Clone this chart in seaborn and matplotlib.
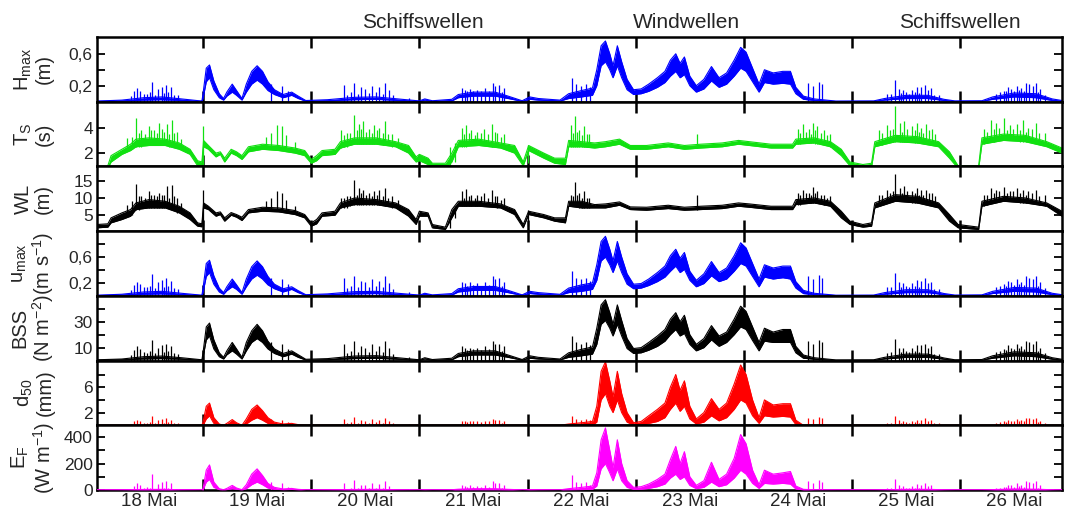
import numpy as np
import pandas as pd
import seaborn as sns
import matplotlib
matplotlib.use("Agg")
import matplotlib.pyplot as plt
from matplotlib.ticker import FixedLocator, FixedFormatter, NullFormatter

# ---------------- data ----------------
# knot times (day of May) for the wave-driven series
t_w = [18.02, 18.25, 18.45, 18.62, 18.80, 18.99, 19.00, 19.03, 19.06, 19.10,
       19.15, 19.19, 19.22, 19.27, 19.31, 19.36, 19.40, 19.45, 19.50, 19.55,
       19.60, 19.66, 19.74, 19.82, 19.88, 19.95, 20.15, 20.40, 20.60, 20.80,
       21.00, 21.05, 21.12, 21.30, 21.36, 21.50, 21.70, 21.82, 21.95, 22.02,
       22.10, 22.30, 22.38, 22.50, 22.60, 22.64, 22.68, 22.72, 22.76, 22.79,
       22.83, 22.87, 22.92, 22.98, 23.05, 23.12, 23.20, 23.27, 23.32, 23.37,
       23.41, 23.45, 23.50, 23.56, 23.63, 23.70, 23.77, 23.84, 23.91, 23.97,
       24.02, 24.08, 24.14, 24.19, 24.27, 24.36, 24.43, 24.48, 24.55, 24.65,
       24.85, 25.20, 25.30, 25.50, 25.70, 25.85, 25.95, 26.20, 26.30, 26.50,
       26.70, 26.85, 26.94]

hmax_lo = [.004, .01, .02, .025, .015, .004, .04, .25, .30, .15,
           .05, .02, .07, .12, .08, .02, .12, .22, .27, .22,
           .14, .09, .05, .08, .04, .006, .01, .025, .03, .015,
           .004, .02, .005, .01, .05, .07, .07, .04, .005, .03,
           .02, .008, .04, .06, .08, .20, .45, .50, .40, .30,
           .45, .30, .15, .09, .10, .13, .18, .24, .32, .38,
           .30, .34, .20, .12, .16, .26, .18, .22, .32, .42,
           .38, .25, .12, .24, .22, .23, .22, .10, .03, .015,
           .003, .004, .02, .04, .04, .015, .004, .005, .03, .06,
           .05, .015, .006]
hmax_hi = [.008, .02, .05, .06, .035, .008, .10, .42, .46, .26,
           .10, .04, .12, .22, .14, .04, .22, .38, .45, .38,
           .25, .15, .09, .12, .07, .015, .025, .055, .06, .035,
           .01, .035, .012, .03, .09, .12, .12, .07, .012, .06,
           .04, .02, .10, .14, .17, .40, .70, .76, .60, .45,
           .70, .50, .28, .15, .16, .22, .30, .38, .52, .60,
           .48, .56, .32, .20, .28, .44, .30, .36, .52, .68,
           .62, .42, .22, .40, .36, .38, .38, .18, .07, .035,
           .008, .01, .04, .08, .08, .03, .01, .012, .06, .11,
           .10, .035, .015]

umax_lo = [.005, .012, .024, .03, .018, .005, .05, .30, .36, .18,
           .06, .024, .08, .14, .10, .025, .14, .26, .32, .26,
           .17, .11, .06, .10, .05, .008, .012, .03, .035, .018,
           .005, .024, .006, .012, .06, .085, .085, .05, .006, .036,
           .024, .01, .05, .07, .10, .24, .54, .60, .48, .36,
           .54, .36, .18, .11, .12, .16, .22, .29, .38, .46,
           .36, .41, .24, .14, .19, .31, .22, .26, .38, .50,
           .46, .30, .14, .29, .26, .28, .26, .12, .035, .018,
           .004, .005, .024, .05, .05, .018, .005, .006, .036, .07,
           .06, .018, .008]
umax_hi = [.01, .025, .06, .07, .04, .01, .12, .50, .55, .31,
           .12, .05, .14, .26, .17, .05, .26, .45, .54, .45,
           .30, .18, .11, .14, .08, .018, .03, .065, .07, .04,
           .012, .04, .015, .035, .11, .145, .145, .085, .015, .07,
           .05, .024, .12, .17, .20, .48, .84, .92, .72, .54,
           .84, .60, .34, .18, .19, .26, .36, .46, .62, .72,
           .58, .67, .38, .24, .34, .53, .36, .43, .62, .82,
           .74, .50, .26, .48, .43, .46, .46, .22, .085, .04,
           .01, .012, .05, .095, .095, .036, .012, .015, .07, .13,
           .12, .04, .018]

bss_lo = [.3, .6, 1.2, 1.5, 1.0, .3, 2.5, 16, 19, 9,
          3, 1.2, 4.5, 7.5, 5, 1.2, 7.5, 14, 17, 14,
          9, 5.5, 3, 5, 2.5, .4, .6, 1.5, 1.8, 1.0,
          .3, 1.2, .3, .6, 3, 4.3, 4.3, 2.5, .3, 1.8,
          1.2, .5, 2.5, 3.7, 5, 12.5, 28, 31, 25, 19,
          28, 19, 9.3, 5.5, 6, 8, 11, 15, 20, 24,
          19, 21, 12.5, 7.5, 10, 16, 11, 14, 20, 26,
          24, 15.5, 7.5, 15, 14, 14, 14, 6, 1.8, 1,
          .2, .2, 1.2, 2.5, 2.5, 1, .2, .3, 1.8, 3.7,
          3, 1, .4]
bss_hi = [.6, 1.2, 3, 3.5, 2.2, .6, 6, 26, 29, 16,
          6, 2.5, 7.5, 14, 9, 2.5, 14, 23, 28, 23,
          15, 9, 5.5, 7.5, 4.5, 1, 1.5, 3.5, 3.8, 2.2,
          .6, 2.2, .8, 1.8, 5.5, 7.5, 7.5, 4.3, .8, 3.7,
          2.5, 1.2, 6, 8.7, 10.5, 25, 43, 47, 37, 28,
          43, 31, 17, 9.3, 10, 14, 19, 24, 32, 37,
          30, 35, 20, 12.5, 17, 27, 19, 22, 32, 42,
          38, 26, 14, 25, 22, 24, 24, 11, 4.3, 2.2,
          .5, .6, 2.5, 5, 5, 2, .6, .8, 3.7, 6.8,
          6, 2.2, 1]

d50_lo = [0, 0, 0, 0, 0, 0, 0, 1.0, 1.5, .3,
          0, 0, 0, .2, 0, 0, .2, .8, 1.2, .8,
          .3, 0, 0, 0, 0, 0, 0, 0, 0, 0,
          0, 0, 0, 0, 0, 0, 0, 0, 0, 0,
          0, 0, 0, 0, 0, .5, 4, 5, 3, 2,
          4, 2, .5, 0, 0, .3, .6, 1.2, 2.5, 3.5,
          2.2, 3, 1, .2, .5, 1.5, .7, 1.2, 2.5, 4,
          3.5, 1.5, .3, 1.5, 1.3, 1.4, 1.3, .1, 0, 0,
          0, 0, 0, 0, 0, 0, 0, 0, 0, 0,
          0, 0, 0]
d50_hi = [0, 0, 0, 0, 0, 0, .5, 3.0, 3.5, 1.2,
          .2, 0, .3, .9, .4, 0, 1.0, 2.5, 3.2, 2.3,
          1.2, .5, .2, .3, .1, 0, 0, 0, 0, 0,
          0, 0, 0, 0, 0, 0, 0, 0, 0, 0,
          0, 0, .2, .4, .6, 3, 8.5, 10, 7, 4.5,
          8.5, 5, 2, .4, .6, 1.5, 2.5, 3.5, 6, 8,
          5.5, 7, 3, 1, 2, 4.2, 2.5, 3.5, 6.5, 9.5,
          8, 4, 1.2, 4, 3.2, 3.4, 3.4, .8, 0, 0,
          0, 0, 0, 0, 0, 0, 0, 0, 0, 0,
          0, 0, 0]

ef_lo = [0, 0, 0, 0, 0, 0, 0, 60, 80, 20,
         2, 0, 3, 10, 5, 0, 10, 40, 60, 40,
         15, 5, 2, 4, 1, 0, 0, 0, 0, 0,
         0, 0, 0, 0, 0, 1, 1, 0, 0, 0,
         0, 0, 1, 3, 5, 30, 160, 200, 130, 70,
         160, 70, 20, 5, 6, 12, 25, 45, 90, 120,
         80, 100, 35, 10, 20, 60, 25, 40, 90, 150,
         120, 50, 12, 50, 45, 50, 45, 8, 0, 0,
         0, 0, 0, 0, 0, 0, 0, 0, 0, 0,
         0, 0, 0]
ef_hi = [1, 2, 4, 5, 2, 1, 10, 150, 190, 60,
         10, 2, 12, 35, 15, 2, 40, 120, 160, 110,
         50, 20, 8, 12, 5, 1, 2, 4, 5, 2,
         1, 2, 1, 2, 6, 10, 10, 5, 1, 3,
         2, 1, 10, 20, 30, 130, 380, 470, 300, 170,
         380, 200, 70, 20, 25, 45, 80, 120, 230, 330,
         200, 290, 100, 35, 70, 210, 80, 120, 240, 420,
         350, 150, 40, 150, 120, 130, 140, 30, 5, 2,
         1, 1, 2, 5, 5, 2, 1, 1, 3, 8,
         6, 2, 1]

# ship-wave spikes (shared times) and their tops per series
ship_t = [18.36, 18.39, 18.42, 18.48, 18.53, 18.58, 18.62, 18.66, 18.70, 18.77,
          19.63, 19.73, 19.79,
          20.30, 20.40, 20.46, 20.50, 20.56, 20.63, 20.68, 20.72, 20.90,
          21.39, 21.42, 21.47, 21.53, 21.61, 21.68, 21.70, 21.74, 21.78,
          22.41, 22.45, 22.49, 22.54, 22.58,
          24.59, 24.64, 24.69, 24.72,
          25.32, 25.40, 25.43, 25.47, 25.55, 25.60, 25.64, 25.67, 25.70, 25.73, 25.80,
          26.40, 26.44, 26.47, 26.52, 26.56, 26.61, 26.64, 26.67, 26.70, 26.74,
          # smaller ship events
          18.33, 18.45, 18.51, 18.56, 18.64, 18.68, 18.73,
          20.33, 20.37, 20.43, 20.53, 20.60, 20.66, 20.76,
          21.44, 21.50, 21.57, 21.64, 21.76,
          25.36, 25.45, 25.50, 25.53, 25.58, 25.62, 25.76,
          26.33, 26.37, 26.42, 26.50, 26.54, 26.59, 26.72, 26.78]
hmax_spk = [.13, .17, .14, .10, .25, .16, .19, .21, .18, .08,
            .22, .20, .14,
            .21, .24, .18, .16, .20, .18, .23, .15, .05,
            .17, .15, .16, .15, .17, .24, .20, .21, .17,
            .30, .22, .20, .22, .18,
            .24, .20, .25, .22,
            .10, .27, .16, .15, .15, .19, .18, .21, .15, .17, .08,
            .14, .18, .16, .20, .17, .24, .22, .20, .23, .16,
            .07, .10, .12, .09, .11, .12, .09,
            .09, .12, .10, .11, .12, .10, .08,
            .13, .14, .13, .14, .12,
            .10, .11, .12, .10, .12, .11, .08,
            .10, .12, .13, .14, .15, .14, .12, .09]
umax_spk = [.17, .22, .18, .13, .33, .21, .25, .27, .23, .10,
            .28, .26, .18,
            .27, .31, .23, .21, .26, .23, .30, .20, .06,
            .22, .20, .21, .20, .22, .31, .26, .27, .22,
            .38, .28, .26, .28, .23,
            .31, .26, .32, .28,
            .13, .35, .21, .20, .20, .25, .23, .27, .20, .22, .10,
            .18, .23, .21, .26, .22, .31, .28, .26, .30, .21,
            .09, .13, .15, .12, .14, .15, .12,
            .12, .15, .13, .14, .15, .13, .10,
            .16, .17, .16, .17, .15,
            .13, .14, .15, .13, .15, .14, .10,
            .13, .15, .16, .17, .19, .17, .15, .12]
bss_spk = [8, 11, 9, 6, 16, 10, 12, 13, 11, 5,
           14, 13, 9,
           13, 15, 11, 10, 13, 11, 15, 10, 3,
           11, 10, 10, 10, 11, 15, 13, 13, 11,
           19, 14, 13, 14, 12,
           15, 13, 16, 14,
           6, 17, 10, 10, 10, 12, 12, 13, 10, 11, 5,
           9, 12, 10, 13, 11, 15, 14, 13, 15, 10,
           4.5, 6.5, 7.5, 6, 7, 7.5, 6,
           6, 7.5, 6.5, 7, 7.5, 6.5, 5,
           8, 9, 8, 9, 7.5,
           6.5, 7, 7.5, 6.5, 7.5, 7, 5,
           6.5, 7.5, 8, 9, 9.5, 9, 7.5, 6]
d50_spk = [.6, .9, .7, .4, 1.4, .8, 1.0, 1.1, .9, .3,
           1.0, .9, .5,
           1.0, 1.3, .9, .7, 1.0, .9, 1.2, .7, .2,
           .7, .6, .7, .6, .7, 1.0, .8, .9, .7,
           1.5, 1.0, .9, 1.0, .8,
           1.2, 1.0, 1.3, 1.1,
           .4, 1.4, .8, .7, .7, .9, .9, 1.1, .7, .8, .3,
           .6, .9, .7, 1.0, .8, 1.2, 1.1, 1.0, 1.2, .7,
           .2, .4, .5, .3, .4, .5, .3,
           .3, .5, .4, .4, .5, .4, .3,
           .5, .6, .5, .6, .4,
           .4, .4, .5, .4, .5, .4, .3,
           .4, .5, .5, .6, .6, .6, .5, .3]
ef_spk = [30, 50, 35, 20, 120, 45, 60, 70, 55, 10,
          60, 50, 25,
          55, 75, 40, 35, 55, 45, 70, 30, 5,
          35, 30, 35, 30, 35, 70, 50, 55, 35,
          110, 60, 50, 60, 40,
          70, 50, 75, 60,
          15, 80, 35, 30, 30, 45, 40, 55, 30, 40, 8,
          25, 40, 35, 50, 40, 70, 60, 50, 65, 35,
          6, 12, 18, 10, 15, 18, 10,
          10, 18, 12, 15, 18, 12, 8,
          20, 25, 20, 25, 18,
          12, 15, 18, 12, 18, 15, 8,
          12, 18, 20, 25, 28, 25, 18, 10]

# period / wavelength series
t_p = [18.02, 18.12, 18.15, 18.25, 18.33, 18.38, 18.50, 18.65, 18.78, 18.88,
       18.95, 18.99, 19.005, 19.05, 19.12, 19.16, 19.20, 19.26, 19.31, 19.36,
       19.42, 19.55, 19.70, 19.85, 19.94, 20.00, 20.05, 20.10, 20.22, 20.27,
       20.40, 20.60, 20.78, 20.90, 20.97, 21.00, 21.08, 21.12, 21.24, 21.30,
       21.36, 21.55, 21.75, 21.88, 21.96, 22.01, 22.15, 22.25, 22.35, 22.38,
       22.50, 22.62, 22.72, 22.85, 22.95, 23.10, 23.30, 23.45, 23.60, 23.80,
       23.95, 24.05, 24.25, 24.45, 24.48, 24.65, 24.80, 24.90, 24.98, 25.10,
       25.18, 25.21, 25.40, 25.60, 25.80, 25.90, 25.98, 26.17, 26.20, 26.40,
       26.60, 26.80, 26.94]
ts_lo = [0.5, 0.8, 1.3, 1.9, 2.2, 2.5, 2.6, 2.6, 2.3, 1.9,
         1.0, 1.0, 2.5, 2.3, 1.7, 1.9, 1.3, 2.0, 1.8, 1.5,
         2.1, 2.3, 2.2, 2.0, 1.8, 1.2, 1.4, 1.8, 1.9, 2.4,
         2.7, 2.7, 2.5, 2.0, 1.3, 1.4, 1.1, 0.8, 0.8, 1.3,
         2.5, 2.6, 2.4, 2.0, 1.0, 2.2, 1.6, 1.2, 1.1, 2.5,
         2.5, 2.4, 2.5, 2.7, 2.3, 2.3, 2.5, 2.3, 2.4, 2.5,
         2.7, 2.6, 2.4, 2.4, 2.7, 2.8, 2.5, 1.8, 1.0, 0.9,
         0.9, 2.5, 2.9, 2.8, 2.5, 1.6, 0.8, 0.8, 2.7, 3.0,
         2.9, 2.5, 2.0]
ts_hi = [0.6, 1.0, 1.8, 2.3, 2.7, 3.1, 3.2, 3.1, 2.8, 2.3,
         1.4, 1.3, 3.0, 2.6, 2.0, 2.1, 1.6, 2.3, 2.1, 1.8,
         2.5, 2.7, 2.6, 2.4, 2.2, 1.5, 1.8, 2.2, 2.3, 2.9,
         3.2, 3.2, 2.9, 2.6, 1.7, 1.9, 1.6, 1.2, 1.2, 2.0,
         3.0, 3.1, 2.8, 2.6, 1.3, 2.6, 2.0, 1.6, 1.6, 3.0,
         2.9, 2.8, 2.9, 3.1, 2.6, 2.6, 2.8, 2.6, 2.7, 2.8,
         3.0, 2.9, 2.7, 2.7, 3.1, 3.2, 2.9, 2.3, 1.3, 1.1,
         1.2, 2.9, 3.4, 3.3, 2.9, 2.1, 1.0, 1.0, 3.2, 3.5,
         3.4, 2.9, 2.4]
wl_lo = [1.0, 1.2, 2.5, 3.5, 4.5, 6.5, 7.0, 7.0, 5.5, 3.5,
         1.5, 1.3, 7.0, 6.5, 4.5, 5.0, 3.0, 4.8, 4.2, 3.2,
         5.5, 6.0, 5.8, 5.0, 4.0, 1.5, 2.2, 4.5, 4.8, 7.0,
         8.0, 8.0, 7.0, 4.5, 2.0, 4.5, 4.5, 1.0, 0.5, 4.0,
         7.5, 7.5, 7.0, 5.0, 1.0, 5.0, 4.0, 3.0, 2.5, 7.5,
         7.0, 7.0, 7.0, 7.8, 6.5, 6.3, 6.8, 6.3, 6.5, 6.8,
         7.5, 7.2, 6.5, 6.5, 8.0, 8.5, 7.5, 4.0, 2.0, 1.2,
         1.5, 7.0, 9.0, 8.5, 7.0, 3.0, 1.0, 0.5, 7.5, 9.0,
         8.5, 7.5, 4.5]
wl_hi = [2.0, 2.2, 4.0, 5.5, 6.5, 8.5, 9.5, 9.0, 7.5, 5.5,
         2.5, 2.2, 8.5, 7.5, 5.5, 5.8, 4.0, 5.6, 5.0, 4.2,
         6.5, 7.2, 7.0, 6.2, 5.0, 2.5, 3.5, 5.5, 6.0, 8.5,
         10.0, 9.5, 8.5, 6.5, 3.5, 6.0, 5.5, 2.0, 1.2, 6.5,
         9.0, 9.0, 8.2, 6.5, 2.0, 6.0, 5.0, 4.0, 4.0, 9.0,
         9.0, 8.0, 8.2, 8.8, 7.3, 7.2, 7.8, 7.2, 7.5, 7.8,
         8.5, 8.2, 7.5, 7.5, 9.5, 10.0, 9.0, 6.0, 3.0, 2.0,
         2.5, 8.5, 11.0, 10.5, 8.5, 5.0, 2.0, 1.2, 9.0, 10.5,
         10.0, 8.5, 6.0]

# spikes in T_S and WL
p_spk_t = [18.30, 18.38, 18.43, 18.50, 18.55, 18.59, 18.62, 18.67, 18.71, 18.76,
           19.00, 19.58, 19.63, 19.68, 19.73, 19.77, 19.85,
           20.28, 20.33, 20.40, 20.44, 20.48, 20.53, 20.58, 20.63, 20.68, 20.75,
           21.28, 21.33, 21.39, 21.43, 21.48, 21.53, 21.60, 21.67, 21.72, 21.78,
           22.00, 22.40, 22.44, 22.48, 22.52, 22.57, 23.57,
           24.50, 24.55, 24.60, 24.64, 24.68, 24.74, 24.80,
           25.25, 25.32, 25.40, 25.44, 25.48, 25.55, 25.60, 25.64, 25.68, 25.74,
           26.22, 26.28, 26.33, 26.40, 26.46, 26.52, 26.58, 26.63, 26.70, 26.78,
           # smaller events
           18.34, 18.41, 18.46, 18.52, 18.57, 18.64, 18.69, 18.73, 18.80,
           20.30, 20.36, 20.42, 20.46, 20.51, 20.56, 20.61, 20.66, 20.71, 20.80,
           21.41, 21.46, 21.51, 21.57, 21.63, 21.70, 21.75,
           22.42, 22.46, 22.50, 22.55,
           24.52, 24.57, 24.62, 24.66, 24.71, 24.77,
           25.28, 25.35, 25.38, 25.46, 25.51, 25.58, 25.62, 25.66, 25.71, 25.77,
           26.25, 26.31, 26.36, 26.43, 26.49, 26.55, 26.61, 26.66, 26.73]
ts_spk_base = [2.2, 2.5, 2.5, 2.6, 2.6, 2.6, 2.6, 2.6, 2.5, 2.4,
               1.0, 2.4, 2.4, 2.4, 2.4, 2.3, 2.1,
               2.4, 2.5, 2.7, 2.7, 2.7, 2.7, 2.7, 2.7, 2.6, 2.5,
               1.0, 1.3, 2.5, 2.5, 2.6, 2.6, 2.6, 2.5, 2.5, 2.4,
               1.2, 2.5, 2.5, 2.5, 2.5, 2.5, 2.4,
               2.7, 2.8, 2.8, 2.8, 2.7, 2.6, 2.5,
               2.6, 2.9, 2.9, 2.9, 2.9, 2.9, 2.8, 2.8, 2.8, 2.7,
               2.7, 2.9, 3.0, 3.0, 3.0, 3.0, 2.9, 2.9, 2.8, 2.6,
               2.3, 2.5, 2.6, 2.6, 2.6, 2.6, 2.5, 2.5, 2.3,
               2.5, 2.6, 2.7, 2.7, 2.7, 2.7, 2.7, 2.6, 2.6, 2.5,
               2.5, 2.6, 2.6, 2.6, 2.6, 2.5, 2.4,
               2.5, 2.5, 2.5, 2.5,
               2.7, 2.8, 2.8, 2.7, 2.7, 2.6,
               2.6, 2.9, 2.9, 2.9, 2.9, 2.8, 2.8, 2.8, 2.7, 2.6,
               2.8, 2.9, 3.0, 3.0, 3.0, 2.9, 2.9, 2.8, 2.7]
ts_spk_top = [3.2, 4.8, 3.8, 4.1, 3.8, 4.4, 3.9, 4.3, 4.6, 3.7,
              4.1, 3.3, 3.6, 4.2, 4.1, 3.4, 2.9,
              3.8, 3.6, 5.0, 4.3, 4.5, 3.9, 4.2, 4.0, 4.5, 3.5,
              2.5, 2.8, 4.0, 4.2, 3.8, 3.7, 3.9, 4.3, 3.6, 3.5,
              2.6, 4.2, 4.9, 3.8, 4.1, 3.5, 3.5,
              3.9, 4.3, 3.9, 4.4, 4.1, 3.8, 3.5,
              3.8, 4.2, 5.7, 4.4, 4.5, 4.1, 4.4, 4.0, 4.3, 3.9,
              3.9, 4.6, 4.4, 4.8, 4.2, 4.3, 4.6, 4.0, 4.4, 3.6,
              3.3, 3.6, 3.5, 3.8, 3.6, 3.7, 3.5, 3.6, 3.1,
              3.4, 3.6, 3.8, 3.9, 3.7, 3.6, 3.8, 3.6, 3.5, 3.2,
              3.5, 3.6, 3.4, 3.6, 3.5, 3.7, 3.3,
              3.6, 3.7, 3.4, 3.5,
              3.6, 3.7, 3.5, 3.8, 3.6, 3.4,
              3.6, 3.8, 3.9, 3.7, 3.9, 3.8, 3.7, 3.6, 3.8, 3.5,
              3.7, 3.9, 4.0, 3.8, 3.9, 3.8, 3.7, 3.9, 3.6]
wl_spk_base = [5, 6.5, 7, 7, 7, 7, 7, 7, 6.5, 5.5,
               1.5, 6.5, 6.5, 6.5, 6.5, 6, 5.5,
               7, 7, 8, 8, 8, 8, 8, 8, 7.5, 7,
               1, 4, 7.5, 7.5, 7.5, 7.5, 7.5, 7.5, 7, 7,
               1.5, 7.5, 7.5, 7, 7, 7, 6.5,
               8, 8.5, 8.5, 8.5, 8.5, 8, 7.5,
               7.5, 9, 9, 9, 9, 8.5, 8.5, 8.5, 8.5, 8,
               7.5, 8.5, 9, 9, 9, 9, 8.5, 8.5, 8.5, 7.5,
               5, 6.5, 7, 7, 7, 7, 7, 7, 5.5,
               7, 7.5, 8, 8, 8, 8, 8, 8, 7.5, 7,
               7.5, 7.5, 7.5, 7.5, 7.5, 7.5, 7,
               7.5, 7.5, 7, 7,
               8, 8.5, 8.5, 8.5, 8.5, 8,
               8, 9, 9, 9, 9, 8.5, 8.5, 8.5, 8.5, 8,
               8, 9, 9, 9, 9, 8.5, 8.5, 8.5, 8]
wl_spk_top = [8, 14.2, 10.5, 12, 11, 11.5, 11, 13.5, 14, 10,
              12.5, 9, 10, 12, 11.5, 9.5, 7.5,
              10, 10.5, 15.3, 13, 12.5, 11.5, 12, 12.5, 13, 10.5,
              5, 7.5, 12, 12.8, 11, 11, 11.5, 12.5, 10.5, 10,
              6.5, 11, 14.8, 11.5, 12, 10, 10.8,
              11.5, 12.5, 11.5, 13.3, 12, 11, 10.5,
              11, 12.5, 17.3, 13, 13.5, 12, 13, 12.5, 12.5, 11.5,
              11, 13, 12.5, 13.3, 12, 13, 12.5, 12, 12.5, 11,
              9, 10.5, 10, 11, 10.5, 11, 10, 10.5, 8.5,
              10, 10.5, 11, 11.5, 11, 10.5, 11, 10.5, 10, 9.5,
              10, 10.5, 10, 10.5, 10, 10.5, 9.5,
              10.5, 11, 10, 10,
              11, 11.5, 11, 11.5, 11, 10,
              11, 11.5, 12, 11.5, 12, 11.5, 11, 11, 11.5, 10.5,
              11, 11.5, 12, 11.5, 12, 11.5, 11, 11.5, 10.5]

day_labels = ["18 Mai", "19 Mai", "20 Mai", "21 Mai", "22 Mai",
              "23 Mai", "24 Mai", "25 Mai", "26 Mai"]
phase_labels = ["Schiffswellen", "Windwellen", "Schiffswellen"]
phase_pos = [21.03, 23.47, 26.0]

# ---------------- styling ----------------
sns.set_theme(style="white")
plt.rcParams['font.family'] = ['Liberation Sans', 'DejaVu Sans']
plt.rcParams['mathtext.fontset'] = 'custom'
plt.rcParams['mathtext.rm'] = 'Liberation Sans'
plt.rcParams['mathtext.it'] = 'Liberation Sans'
plt.rcParams['mathtext.bf'] = 'Liberation Sans'

BLUE, GREEN, BLACK, RED, MAG = "#0000ff", "#11e011", "#000000", "#ff0000", "#ff00ff"

fig, axes = plt.subplots(7, 1, figsize=(10.66, 5.11), dpi=100)
fig.subplots_adjust(left=0.091, right=0.9962, top=0.9276, bottom=0.0411, hspace=0)


def band(ax, t, lo, hi, color, z=2):
    ax.fill_between(t, lo, hi, color=color, lw=0, zorder=z)
    sns.lineplot(x=t, y=hi, ax=ax, color=color, lw=0.8, estimator=None, zorder=z)
    sns.lineplot(x=t, y=lo, ax=ax, color=color, lw=0.8, estimator=None, zorder=z)


panels = [
    dict(t=t_w, lo=hmax_lo, hi=hmax_hi, st=ship_t, sb=None, sp=hmax_spk, c=BLUE,
         ylim=(0, 0.81), ticks=[0.2, 0.4, 0.6], tl=["0,2", "", "0,6"],
         lab="H$_{\\mathregular{max}}$\n(m)"),
    dict(t=t_p, lo=ts_lo, hi=ts_hi, st=p_spk_t, sb=ts_spk_base, sp=ts_spk_top, c=GREEN,
         ylim=(0.95, 6.05), ticks=[2, 4], tl=["2", "4"],
         lab="T$_{\\mathregular{S}}$\n(s)"),
    dict(t=t_p, lo=wl_lo, hi=wl_hi, st=p_spk_t, sb=wl_spk_base, sp=wl_spk_top, c=BLACK,
         ylim=(0, 19.5), ticks=[5, 10, 15], tl=["5", "10", "15"],
         lab="WL\n(m)"),
    dict(t=t_w, lo=umax_lo, hi=umax_hi, st=ship_t, sb=None, sp=umax_spk, c=BLUE,
         ylim=(0, 1.0), ticks=[0.2, 0.4, 0.6, 0.8], tl=["0,2", "", "0,6", ""],
         lab="u$_{\\mathregular{max}}$\n(m s$^{\\mathregular{-1}}$)"),
    dict(t=t_w, lo=bss_lo, hi=bss_hi, st=ship_t, sb=None, sp=bss_spk, c=BLACK,
         ylim=(0, 50), ticks=[10, 20, 30, 40], tl=["10", "", "30", ""],
         lab="BSS\n(N m$^{\\mathregular{-2}}$)"),
    dict(t=t_w, lo=d50_lo, hi=d50_hi, st=ship_t, sb=None, sp=d50_spk, c=RED,
         ylim=(0, 10.2), ticks=[2, 4, 6, 8], tl=["2", "", "6", ""],
         lab="d$_{\\mathregular{50}}$\n(mm)"),
    dict(t=t_w, lo=ef_lo, hi=ef_hi, st=ship_t, sb=None, sp=ef_spk, c=MAG,
         ylim=(0, 490), ticks=[0, 100, 200, 300, 400], tl=["0", "", "200", "", "400"],
         lab="E$_{\\mathregular{F}}$\n(W m$^{\\mathregular{-1}}$)"),
]

for i, (ax, p) in enumerate(zip(axes, panels)):
    z = 3 if i == 6 else 2
    band(ax, p["t"], p["lo"], p["hi"], p["c"], z=z)
    base = p["sb"] if p["sb"] is not None else [0] * len(p["st"])
    ax.vlines(p["st"], base, p["sp"], color=p["c"], lw=0.9, zorder=z)
    ax.set_xlim(18.02, 26.94)
    ax.set_ylim(*p["ylim"])
    ax.set_xlabel("")
    ax.yaxis.set_major_locator(FixedLocator(p["ticks"]))
    ax.yaxis.set_major_formatter(FixedFormatter(p["tl"]))
    ax.xaxis.set_major_locator(FixedLocator(list(range(19, 27))))
    ax.xaxis.set_major_formatter(NullFormatter())
    ax.tick_params(axis='x', which='major', direction='in', length=8, width=1.8,
                   top=True, bottom=True, color='black')
    ax.tick_params(axis='y', which='major', direction='in', length=6, width=1.3,
                   left=True, right=True, labelsize=12.5, pad=3, color='black')
    for s in ax.spines.values():
        s.set_color('black')
        s.set_linewidth(1.8)
    ax.set_ylabel(p["lab"], fontsize=14.5, linespacing=1.05)
    ax.yaxis.label.set_verticalalignment('center')
    ax.yaxis.set_label_coords(-0.066, 0.5)
    ax.grid(False)

# day labels on the last panel, centred in each day
axb = axes[-1]
axb.xaxis.set_minor_locator(FixedLocator([d + 0.5 for d in range(18, 27)]))
axb.xaxis.set_minor_formatter(FixedFormatter(day_labels))
axb.tick_params(axis='x', which='minor', length=0, labelsize=13.5, pad=2)

for name, xpos in zip(phase_labels, phase_pos):
    axes[0].text(xpos, 1.23, name, transform=axes[0].get_xaxis_transform(),
                 ha='center', va='center', fontsize=15)

fig.savefig("out.png", dpi=100)
